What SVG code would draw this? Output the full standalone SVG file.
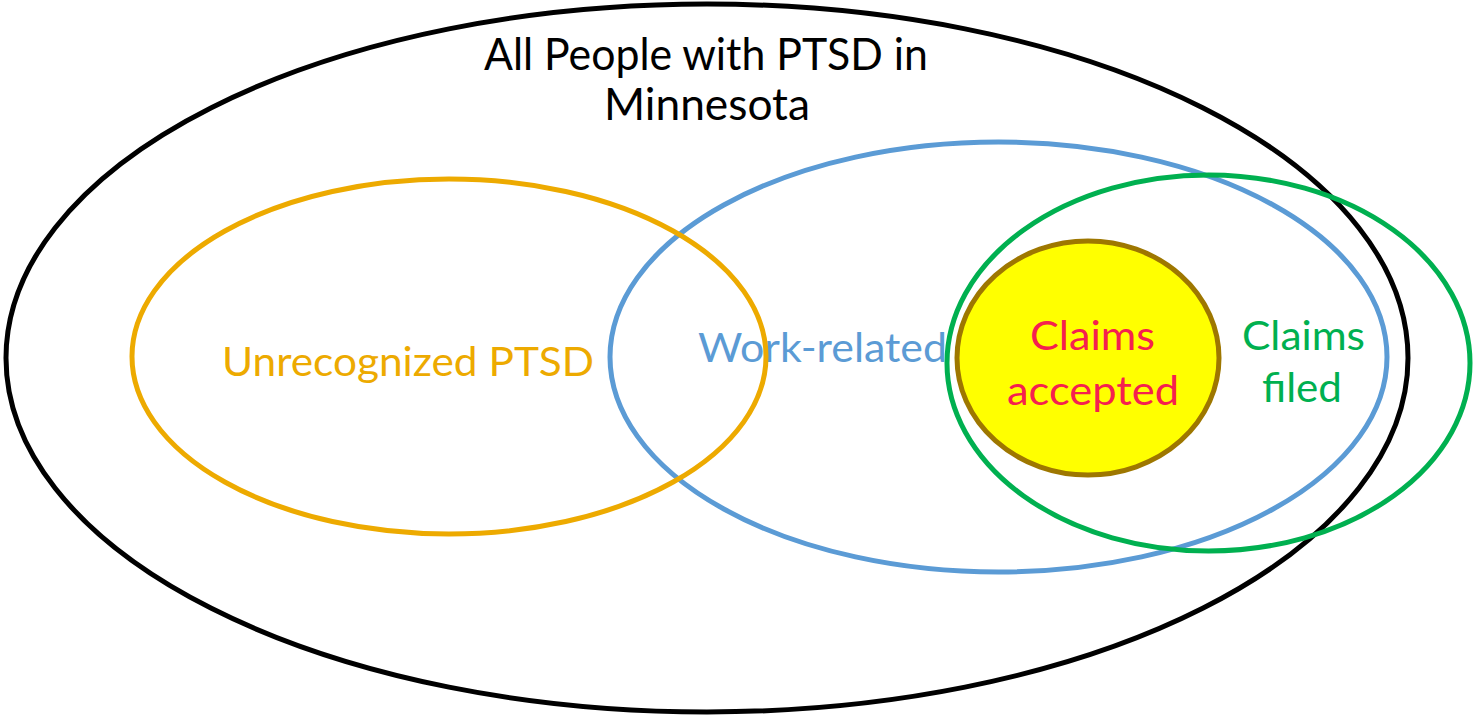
<svg xmlns="http://www.w3.org/2000/svg" width="1475" height="716" viewBox="0 0 1475 716">
  <style>
    .set { fill: none; stroke-width: 5; }
    .lbl { font-family: Lato, "Open Sans", "Liberation Sans", sans-serif; text-anchor: middle; }
  </style>
  <rect width="1475" height="716" fill="#ffffff"/>

  <!-- Outer population -->
  <g id="all-people">
    <ellipse class="set" cx="707" cy="358" rx="701" ry="354" stroke="#000000"/>
    <text class="lbl" x="706" y="70" font-size="44" fill="#000000" textLength="444" lengthAdjust="spacingAndGlyphs">All People with PTSD in</text>
    <text class="lbl" x="707" y="120" font-size="44" fill="#000000" textLength="206" lengthAdjust="spacingAndGlyphs">Minnesota</text>
  </g>

  <!-- Work-related set -->
  <g id="work-related">
    <ellipse class="set" cx="998.5" cy="357" rx="388.5" ry="215" stroke="#5B9BD5"/>
    <text class="lbl" x="822.5" y="362" font-size="41" fill="#5B9BD5" textLength="249" lengthAdjust="spacingAndGlyphs">Work-related</text>
  </g>

  <!-- Unrecognized set -->
  <g id="unrecognized">
    <ellipse class="set" cx="449" cy="356.5" rx="317" ry="177.5" stroke="#EDAA00"/>
    <text class="lbl" x="408" y="376" font-size="41" fill="#EDAA00" textLength="372" lengthAdjust="spacingAndGlyphs">Unrecognized PTSD</text>
  </g>

  <!-- Claims filed set -->
  <g id="claims-filed">
    <ellipse class="set" cx="1208.5" cy="363" rx="261.5" ry="188" stroke="#00B050"/>
    <text class="lbl" x="1303.5" y="350" font-size="41" fill="#00B050" textLength="123" lengthAdjust="spacingAndGlyphs">Claims</text>
    <text class="lbl" x="1302" y="402" font-size="41" fill="#00B050" textLength="80" lengthAdjust="spacingAndGlyphs">filed</text>
  </g>

  <!-- Claims accepted set -->
  <g id="claims-accepted">
    <ellipse cx="1088" cy="358" rx="131" ry="117" fill="#FFFF00" stroke="#9E7700" stroke-width="5"/>
    <text class="lbl" x="1092.5" y="350" font-size="41" fill="#F5204F" textLength="125" lengthAdjust="spacingAndGlyphs">Claims</text>
    <text class="lbl" x="1093" y="405" font-size="41" fill="#F5204F" textLength="172" lengthAdjust="spacingAndGlyphs">accepted</text>
  </g>

  <!-- No connectors in this diagram -->
  <g id="connectors"/>
</svg>
